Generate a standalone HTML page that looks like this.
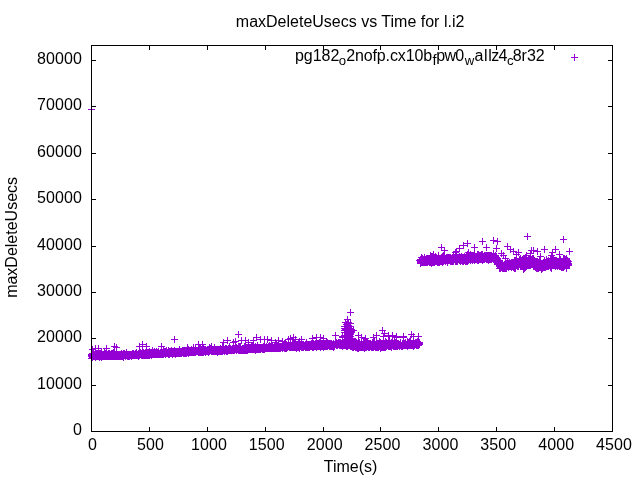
<!DOCTYPE html>
<html lang="en">
<head>
<meta charset="utf-8">
<title>maxDeleteUsecs vs Time for l.i2</title>
<style>
html,body{margin:0;padding:0;background:#fff;overflow:hidden}
svg{display:block}
text{font-family:"Liberation Sans",Arial,Helvetica,sans-serif;font-size:16px;fill:#000}
.sub{font-size:13.2px}
.num{letter-spacing:.1px}
</style>
</head>
<body>
<svg width="640" height="480" viewBox="0 0 640 480" role="img" aria-label="maxDeleteUsecs vs Time for l.i2">
<rect width="640" height="480" fill="#fff"/>
<g id="data" shape-rendering="crispEdges" fill="none" stroke="#9400d3" stroke-width="1">
<path d="M88 354.5h7M91.5 351v7M88 355.5h7M91.5 352v7M89 354.5h7M92.5 351v7M89 355.5h7M92.5 352v7M89 356.5h7M92.5 353v7M90 356.5h7M93.5 353v7M90 353.5h7M93.5 350v7M90 354.5h7M93.5 351v7M90 355.5h7M93.5 352v7M91 356.5h7M94.5 353v7M91 354.5h7M94.5 351v7M91 355.5h7M94.5 352v7M92 352.5h7M95.5 349v7M92 354.5h7M95.5 351v7M92 356.5h7M95.5 353v7M92 355.5h7M95.5 352v7M92 357.5h7M95.5 354v7M93 355.5h7M96.5 352v7M93 354.5h7M96.5 351v7M93 356.5h7M96.5 353v7M93 353.5h7M96.5 350v7M94 354.5h7M97.5 351v7M94 356.5h7M97.5 353v7M94 355.5h7M97.5 352v7M94 353.5h7M97.5 350v7M95 354.5h7M98.5 351v7M95 356.5h7M98.5 353v7M95 355.5h7M98.5 352v7M96 356.5h7M99.5 353v7M96 355.5h7M99.5 352v7M96 357.5h7M99.5 354v7M96 353.5h7M99.5 350v7M97 356.5h7M100.5 353v7M97 355.5h7M100.5 352v7M97 353.5h7M100.5 350v7M97 354.5h7M100.5 351v7M98 356.5h7M101.5 353v7M98 357.5h7M101.5 354v7M98 352.5h7M101.5 349v7M98 354.5h7M101.5 351v7M98 355.5h7M101.5 352v7M99 355.5h7M102.5 352v7M99 354.5h7M102.5 351v7M99 356.5h7M102.5 353v7M100 354.5h7M103.5 351v7M100 355.5h7M103.5 352v7M100 356.5h7M103.5 353v7M101 356.5h7M104.5 353v7M101 355.5h7M104.5 352v7M101 351.5h7M104.5 348v7M101 354.5h7M104.5 351v7M102 354.5h7M105.5 351v7M102 356.5h7M105.5 353v7M102 353.5h7M105.5 350v7M103 355.5h7M106.5 352v7M103 354.5h7M106.5 351v7M103 356.5h7M106.5 353v7M104 356.5h7M107.5 353v7M104 355.5h7M107.5 352v7M104 354.5h7M107.5 351v7M105 356.5h7M108.5 353v7M105 353.5h7M108.5 350v7M105 354.5h7M108.5 351v7M105 355.5h7M108.5 352v7M106 353.5h7M109.5 350v7M106 356.5h7M109.5 353v7M106 355.5h7M109.5 352v7M107 355.5h7M110.5 352v7M107 356.5h7M110.5 353v7M107 354.5h7M110.5 351v7M108 355.5h7M111.5 352v7M108 356.5h7M111.5 353v7M108 354.5h7M111.5 351v7M108 353.5h7M111.5 350v7M109 355.5h7M112.5 352v7M109 354.5h7M112.5 351v7M109 356.5h7M112.5 353v7M109 353.5h7M112.5 350v7M110 354.5h7M113.5 351v7M110 355.5h7M113.5 352v7M110 352.5h7M113.5 349v7M110 356.5h7M113.5 353v7M111 354.5h7M114.5 351v7M111 355.5h7M114.5 352v7M111 356.5h7M114.5 353v7M111 353.5h7M114.5 350v7M112 354.5h7M115.5 351v7M112 356.5h7M115.5 353v7M112 355.5h7M115.5 352v7M113 354.5h7M116.5 351v7M113 355.5h7M116.5 352v7M113 353.5h7M116.5 350v7M113 356.5h7M116.5 353v7M114 354.5h7M117.5 351v7M114 355.5h7M117.5 352v7M114 356.5h7M117.5 353v7M115 354.5h7M118.5 351v7M115 355.5h7M118.5 352v7M115 356.5h7M118.5 353v7M116 355.5h7M119.5 352v7M116 354.5h7M119.5 351v7M116 356.5h7M119.5 353v7M117 354.5h7M120.5 351v7M117 356.5h7M120.5 353v7M117 355.5h7M120.5 352v7M118 356.5h7M121.5 353v7M118 354.5h7M121.5 351v7M118 353.5h7M121.5 350v7M119 354.5h7M122.5 351v7M119 355.5h7M122.5 352v7M119 356.5h7M122.5 353v7M120 355.5h7M123.5 352v7M120 353.5h7M123.5 350v7M120 356.5h7M123.5 353v7M120 357.5h7M123.5 354v7M120 354.5h7M123.5 351v7M121 354.5h7M124.5 351v7M121 355.5h7M124.5 352v7M121 353.5h7M124.5 350v7M122 355.5h7M125.5 352v7M122 356.5h7M125.5 353v7M122 354.5h7M125.5 351v7M123 352.5h7M126.5 349v7M123 354.5h7M126.5 351v7M123 355.5h7M126.5 352v7M123 353.5h7M126.5 350v7M124 355.5h7M127.5 352v7M124 354.5h7M127.5 351v7M124 356.5h7M127.5 353v7M125 355.5h7M128.5 352v7M125 354.5h7M128.5 351v7M125 356.5h7M128.5 353v7M126 354.5h7M129.5 351v7M126 355.5h7M129.5 352v7M126 356.5h7M129.5 353v7M127 355.5h7M130.5 352v7M127 354.5h7M130.5 351v7M128 354.5h7M131.5 351v7M128 356.5h7M131.5 353v7M128 355.5h7M131.5 352v7M129 354.5h7M132.5 351v7M129 355.5h7M132.5 352v7M129 353.5h7M132.5 350v7M130 353.5h7M133.5 350v7M130 355.5h7M133.5 352v7M130 354.5h7M133.5 351v7M131 355.5h7M134.5 352v7M131 354.5h7M134.5 351v7M132 354.5h7M135.5 351v7M132 355.5h7M135.5 352v7M132 353.5h7M135.5 350v7M133 354.5h7M136.5 351v7M133 353.5h7M136.5 350v7M133 355.5h7M136.5 352v7M133 352.5h7M136.5 349v7M134 354.5h7M137.5 351v7M134 355.5h7M137.5 352v7M135 353.5h7M138.5 350v7M135 354.5h7M138.5 351v7M135 355.5h7M138.5 352v7M135 356.5h7M138.5 353v7M136 354.5h7M139.5 351v7M136 353.5h7M139.5 350v7M136 355.5h7M139.5 352v7M136 352.5h7M139.5 349v7M137 353.5h7M140.5 350v7M137 354.5h7M140.5 351v7M137 352.5h7M140.5 349v7M138 353.5h7M141.5 350v7M138 355.5h7M141.5 352v7M138 354.5h7M141.5 351v7M139 353.5h7M142.5 350v7M139 354.5h7M142.5 351v7M139 355.5h7M142.5 352v7M139 351.5h7M142.5 348v7M140 353.5h7M143.5 350v7M140 354.5h7M143.5 351v7M140 352.5h7M143.5 349v7M140 355.5h7M143.5 352v7M141 354.5h7M144.5 351v7M141 353.5h7M144.5 350v7M141 355.5h7M144.5 352v7M142 355.5h7M145.5 352v7M142 354.5h7M145.5 351v7M142 353.5h7M145.5 350v7M142 352.5h7M145.5 349v7M143 355.5h7M146.5 352v7M143 353.5h7M146.5 350v7M143 354.5h7M146.5 351v7M143 352.5h7M146.5 349v7M144 353.5h7M147.5 350v7M144 354.5h7M147.5 351v7M144 352.5h7M147.5 349v7M144 355.5h7M147.5 352v7M145 354.5h7M148.5 351v7M145 355.5h7M148.5 352v7M145 353.5h7M148.5 350v7M145 352.5h7M148.5 349v7M146 354.5h7M149.5 351v7M146 355.5h7M149.5 352v7M146 353.5h7M149.5 350v7M146 351.5h7M149.5 348v7M146 352.5h7M149.5 349v7M147 353.5h7M150.5 350v7M147 354.5h7M150.5 351v7M147 352.5h7M150.5 349v7M148 354.5h7M151.5 351v7M148 352.5h7M151.5 349v7M148 355.5h7M151.5 352v7M148 353.5h7M151.5 350v7M149 352.5h7M152.5 349v7M149 353.5h7M152.5 350v7M149 354.5h7M152.5 351v7M149 350.5h7M152.5 347v7M150 352.5h7M153.5 349v7M150 353.5h7M153.5 350v7M150 354.5h7M153.5 351v7M151 354.5h7M154.5 351v7M151 353.5h7M154.5 350v7M151 351.5h7M154.5 348v7M152 353.5h7M155.5 350v7M152 352.5h7M155.5 349v7M152 354.5h7M155.5 351v7M153 352.5h7M156.5 349v7M153 353.5h7M156.5 350v7M153 351.5h7M156.5 348v7M153 354.5h7M156.5 351v7M154 352.5h7M157.5 349v7M154 354.5h7M157.5 351v7M154 353.5h7M157.5 350v7M155 354.5h7M158.5 351v7M155 352.5h7M158.5 349v7M155 353.5h7M158.5 350v7M155 351.5h7M158.5 348v7M156 353.5h7M159.5 350v7M156 354.5h7M159.5 351v7M157 354.5h7M160.5 351v7M157 352.5h7M160.5 349v7M157 353.5h7M160.5 350v7M158 352.5h7M161.5 349v7M158 353.5h7M161.5 350v7M158 354.5h7M161.5 351v7M158 351.5h7M161.5 348v7M159 352.5h7M162.5 349v7M159 354.5h7M162.5 351v7M159 353.5h7M162.5 350v7M160 352.5h7M163.5 349v7M160 350.5h7M163.5 347v7M160 354.5h7M163.5 351v7M160 353.5h7M163.5 350v7M161 353.5h7M164.5 350v7M161 352.5h7M164.5 349v7M161 351.5h7M164.5 348v7M162 353.5h7M165.5 350v7M162 352.5h7M165.5 349v7M162 351.5h7M165.5 348v7M162 354.5h7M165.5 351v7M163 353.5h7M166.5 350v7M163 351.5h7M166.5 348v7M163 352.5h7M166.5 349v7M163 350.5h7M166.5 347v7M164 352.5h7M167.5 349v7M164 353.5h7M167.5 350v7M165 352.5h7M168.5 349v7M165 351.5h7M168.5 348v7M165 354.5h7M168.5 351v7M165 350.5h7M168.5 347v7M166 354.5h7M169.5 351v7M166 352.5h7M169.5 349v7M166 351.5h7M169.5 348v7M166 353.5h7M169.5 350v7M167 351.5h7M170.5 348v7M167 353.5h7M170.5 350v7M167 352.5h7M170.5 349v7M168 352.5h7M171.5 349v7M168 350.5h7M171.5 347v7M168 353.5h7M171.5 350v7M168 351.5h7M171.5 348v7M169 353.5h7M172.5 350v7M169 352.5h7M172.5 349v7M169 354.5h7M172.5 351v7M169 351.5h7M172.5 348v7M170 351.5h7M173.5 348v7M170 353.5h7M173.5 350v7M171 351.5h7M174.5 348v7M171 350.5h7M174.5 347v7M171 353.5h7M174.5 350v7M171 352.5h7M174.5 349v7M172 352.5h7M175.5 349v7M172 351.5h7M175.5 348v7M172 353.5h7M175.5 350v7M172 354.5h7M175.5 351v7M173 351.5h7M176.5 348v7M173 352.5h7M176.5 349v7M173 353.5h7M176.5 350v7M174 351.5h7M177.5 348v7M174 353.5h7M177.5 350v7M174 352.5h7M177.5 349v7M175 353.5h7M178.5 350v7M175 351.5h7M178.5 348v7"/>
<path d="M175 352.5h7M178.5 349v7M176 349.5h7M179.5 346v7M176 352.5h7M179.5 349v7M176 351.5h7M179.5 348v7M176 350.5h7M179.5 347v7M176 353.5h7M179.5 350v7M177 352.5h7M180.5 349v7M177 353.5h7M180.5 350v7M177 351.5h7M180.5 348v7M178 352.5h7M181.5 349v7M178 351.5h7M181.5 348v7M178 353.5h7M181.5 350v7M179 350.5h7M182.5 347v7M179 351.5h7M182.5 348v7M179 352.5h7M182.5 349v7M180 352.5h7M183.5 349v7M180 350.5h7M183.5 347v7M180 351.5h7M183.5 348v7M180 353.5h7M183.5 350v7M181 352.5h7M184.5 349v7M181 351.5h7M184.5 348v7M181 353.5h7M184.5 350v7M182 351.5h7M185.5 348v7M182 353.5h7M185.5 350v7M182 350.5h7M185.5 347v7M182 352.5h7M185.5 349v7M183 351.5h7M186.5 348v7M183 352.5h7M186.5 349v7M183 350.5h7M186.5 347v7M183 353.5h7M186.5 350v7M184 350.5h7M187.5 347v7M184 351.5h7M187.5 348v7M184 352.5h7M187.5 349v7M184 347.5h7M187.5 344v7M185 349.5h7M188.5 346v7M185 350.5h7M188.5 347v7M185 352.5h7M188.5 349v7M185 351.5h7M188.5 348v7M185 353.5h7M188.5 350v7M186 351.5h7M189.5 348v7M186 352.5h7M189.5 349v7M186 350.5h7M189.5 347v7M187 350.5h7M190.5 347v7M187 351.5h7M190.5 348v7M187 352.5h7M190.5 349v7M188 352.5h7M191.5 349v7M188 351.5h7M191.5 348v7M188 350.5h7M191.5 347v7M188 349.5h7M191.5 346v7M189 350.5h7M192.5 347v7M189 351.5h7M192.5 348v7M189 352.5h7M192.5 349v7M190 350.5h7M193.5 347v7M190 351.5h7M193.5 348v7M190 347.5h7M193.5 344v7M190 352.5h7M193.5 349v7M191 351.5h7M194.5 348v7M191 352.5h7M194.5 349v7M191 350.5h7M194.5 347v7M192 352.5h7M195.5 349v7M192 351.5h7M195.5 348v7M192 348.5h7M195.5 345v7M193 350.5h7M196.5 347v7M193 351.5h7M196.5 348v7M194 351.5h7M197.5 348v7M194 350.5h7M197.5 347v7M195 352.5h7M198.5 349v7M195 350.5h7M198.5 347v7M195 351.5h7M198.5 348v7M195 349.5h7M198.5 346v7M196 351.5h7M199.5 348v7M196 352.5h7M199.5 349v7M196 350.5h7M199.5 347v7M196 347.5h7M199.5 344v7M197 352.5h7M200.5 349v7M197 348.5h7M200.5 345v7M197 349.5h7M200.5 346v7M197 350.5h7M200.5 347v7M197 347.5h7M200.5 344v7M198 351.5h7M201.5 348v7M198 350.5h7M201.5 347v7M198 352.5h7M201.5 349v7M198 349.5h7M201.5 346v7M199 350.5h7M202.5 347v7M199 351.5h7M202.5 348v7M199 348.5h7M202.5 345v7M199 352.5h7M202.5 349v7M200 352.5h7M203.5 349v7M200 351.5h7M203.5 348v7M200 348.5h7M203.5 345v7M200 350.5h7M203.5 347v7M200 349.5h7M203.5 346v7M201 349.5h7M204.5 346v7M201 350.5h7M204.5 347v7M201 351.5h7M204.5 348v7M202 352.5h7M205.5 349v7M202 351.5h7M205.5 348v7M202 350.5h7M205.5 347v7M202 349.5h7M205.5 346v7M203 350.5h7M206.5 347v7M203 351.5h7M206.5 348v7M204 349.5h7M207.5 346v7M204 350.5h7M207.5 347v7M204 351.5h7M207.5 348v7M205 349.5h7M208.5 346v7M205 350.5h7M208.5 347v7M205 352.5h7M208.5 349v7M205 351.5h7M208.5 348v7M206 351.5h7M209.5 348v7M206 349.5h7M209.5 346v7M206 350.5h7M209.5 347v7M206 347.5h7M209.5 344v7M207 348.5h7M210.5 345v7M207 349.5h7M210.5 346v7M207 350.5h7M210.5 347v7M208 351.5h7M211.5 348v7M208 346.5h7M211.5 343v7M208 350.5h7M211.5 347v7M209 350.5h7M212.5 347v7M209 351.5h7M212.5 348v7M209 349.5h7M212.5 346v7M210 351.5h7M213.5 348v7M210 350.5h7M213.5 347v7M210 349.5h7M213.5 346v7M211 350.5h7M214.5 347v7M211 351.5h7M214.5 348v7M211 349.5h7M214.5 346v7M211 347.5h7M214.5 344v7M211 348.5h7M214.5 345v7M212 351.5h7M215.5 348v7M212 349.5h7M215.5 346v7M212 350.5h7M215.5 347v7M213 350.5h7M216.5 347v7M213 351.5h7M216.5 348v7M213 349.5h7M216.5 346v7M214 351.5h7M217.5 348v7M214 350.5h7M217.5 347v7M214 352.5h7M217.5 349v7M214 349.5h7M217.5 346v7M215 349.5h7M218.5 346v7M215 350.5h7M218.5 347v7M215 351.5h7M218.5 348v7M216 350.5h7M219.5 347v7M216 349.5h7M219.5 346v7M216 351.5h7M219.5 348v7M217 350.5h7M220.5 347v7M217 351.5h7M220.5 348v7M217 349.5h7M220.5 346v7M217 348.5h7M220.5 345v7M218 349.5h7M221.5 346v7M218 351.5h7M221.5 348v7M218 350.5h7M221.5 347v7M219 349.5h7M222.5 346v7M219 351.5h7M222.5 348v7M219 350.5h7M222.5 347v7M219 346.5h7M222.5 343v7M220 349.5h7M223.5 346v7M220 350.5h7M223.5 347v7M220 347.5h7M223.5 344v7M221 350.5h7M224.5 347v7M221 351.5h7M224.5 348v7M221 349.5h7M224.5 346v7M222 349.5h7M225.5 346v7M222 350.5h7M225.5 347v7M222 348.5h7M225.5 345v7M223 349.5h7M226.5 346v7M223 348.5h7M226.5 345v7M223 350.5h7M226.5 347v7M223 351.5h7M226.5 348v7M224 350.5h7M227.5 347v7M224 351.5h7M227.5 348v7M225 350.5h7M228.5 347v7M225 349.5h7M228.5 346v7M225 348.5h7M228.5 345v7M226 350.5h7M229.5 347v7M226 346.5h7M229.5 343v7M226 349.5h7M229.5 346v7M227 348.5h7M230.5 345v7M227 350.5h7M230.5 347v7M227 349.5h7M230.5 346v7M228 350.5h7M231.5 347v7M228 349.5h7M231.5 346v7M229 349.5h7M232.5 346v7M229 350.5h7M232.5 347v7M230 349.5h7M233.5 346v7M230 348.5h7M233.5 345v7M230 350.5h7M233.5 347v7M230 347.5h7M233.5 344v7M231 349.5h7M234.5 346v7M231 350.5h7M234.5 347v7M231 348.5h7M234.5 345v7M232 345.5h7M235.5 342v7M232 349.5h7M235.5 346v7M232 348.5h7M235.5 345v7M233 349.5h7M236.5 346v7M233 347.5h7M236.5 344v7M233 348.5h7M236.5 345v7M233 350.5h7M236.5 347v7M234 348.5h7M237.5 345v7M234 349.5h7M237.5 346v7M235 348.5h7M238.5 345v7M235 349.5h7M238.5 346v7M235 350.5h7M238.5 347v7M235 346.5h7M238.5 343v7M236 349.5h7M239.5 346v7M236 348.5h7M239.5 345v7M236 350.5h7M239.5 347v7M236 346.5h7M239.5 343v7M237 350.5h7M240.5 347v7M237 346.5h7M240.5 343v7M237 348.5h7M240.5 345v7M237 349.5h7M240.5 346v7M237 347.5h7M240.5 344v7M238 349.5h7M241.5 346v7M238 350.5h7M241.5 347v7M239 349.5h7M242.5 346v7M239 348.5h7M242.5 345v7M239 350.5h7M242.5 347v7M240 348.5h7M243.5 345v7M240 349.5h7M243.5 346v7M240 350.5h7M243.5 347v7M241 348.5h7M244.5 345v7M241 349.5h7M244.5 346v7M241 346.5h7M244.5 343v7M241 350.5h7M244.5 347v7M242 349.5h7M245.5 346v7M242 350.5h7M245.5 347v7M242 347.5h7M245.5 344v7M242 348.5h7M245.5 345v7M243 350.5h7M246.5 347v7M243 347.5h7M246.5 344v7M243 349.5h7M246.5 346v7M243 348.5h7M246.5 345v7M244 349.5h7M247.5 346v7M244 350.5h7M247.5 347v7M244 348.5h7M247.5 345v7M244 347.5h7M247.5 344v7M245 349.5h7M248.5 346v7M245 348.5h7M248.5 345v7M246 348.5h7M249.5 345v7M246 347.5h7M249.5 344v7M246 349.5h7M249.5 346v7M247 348.5h7M250.5 345v7M247 349.5h7M250.5 346v7M247 347.5h7M250.5 344v7M248 348.5h7M251.5 345v7M248 347.5h7M251.5 344v7M248 346.5h7M251.5 343v7M248 349.5h7M251.5 346v7M249 349.5h7M252.5 346v7M249 348.5h7M252.5 345v7M249 347.5h7M252.5 344v7M249 345.5h7M252.5 342v7M250 348.5h7M253.5 345v7M250 349.5h7M253.5 346v7M250 347.5h7M253.5 344v7M251 349.5h7M254.5 346v7M251 348.5h7M254.5 345v7M251 347.5h7M254.5 344v7M252 346.5h7M255.5 343v7M252 347.5h7M255.5 344v7M252 348.5h7M255.5 345v7M252 350.5h7M255.5 347v7M253 348.5h7M256.5 345v7M253 347.5h7M256.5 344v7M253 349.5h7M256.5 346v7M254 348.5h7M257.5 345v7M254 347.5h7M257.5 344v7M254 345.5h7M257.5 342v7M254 349.5h7M257.5 346v7M255 349.5h7M258.5 346v7M255 347.5h7M258.5 344v7M255 348.5h7M258.5 345v7M256 348.5h7M259.5 345v7M256 349.5h7M259.5 346v7M256 347.5h7M259.5 344v7M257 347.5h7M260.5 344v7M257 348.5h7M260.5 345v7M257 349.5h7M260.5 346v7M258 347.5h7M261.5 344v7M258 348.5h7M261.5 345v7M259 347.5h7M262.5 344v7M259 349.5h7M262.5 346v7M259 348.5h7M262.5 345v7M260 348.5h7M263.5 345v7M260 346.5h7M263.5 343v7M260 349.5h7M263.5 346v7M260 347.5h7M263.5 344v7M261 347.5h7M264.5 344v7M261 349.5h7M264.5 346v7M261 348.5h7M264.5 345v7M261 345.5h7M264.5 342v7M262 348.5h7M265.5 345v7M262 347.5h7M265.5 344v7M263 348.5h7M266.5 345v7M263 346.5h7M266.5 343v7M263 347.5h7M266.5 344v7M264 347.5h7M267.5 344v7M264 348.5h7M267.5 345v7M265 346.5h7M268.5 343v7"/>
<path d="M265 348.5h7M268.5 345v7M265 347.5h7M268.5 344v7M266 347.5h7M269.5 344v7M266 348.5h7M269.5 345v7M266 346.5h7M269.5 343v7M266 345.5h7M269.5 342v7M267 346.5h7M270.5 343v7M267 347.5h7M270.5 344v7M267 348.5h7M270.5 345v7M268 347.5h7M271.5 344v7M268 348.5h7M271.5 345v7M268 346.5h7M271.5 343v7M269 348.5h7M272.5 345v7M269 347.5h7M272.5 344v7M269 345.5h7M272.5 342v7M269 346.5h7M272.5 343v7M270 348.5h7M273.5 345v7M270 347.5h7M273.5 344v7M271 347.5h7M274.5 344v7M271 348.5h7M274.5 345v7M271 346.5h7M274.5 343v7M272 346.5h7M275.5 343v7M272 348.5h7M275.5 345v7M272 347.5h7M275.5 344v7M273 348.5h7M276.5 345v7M273 347.5h7M276.5 344v7M273 346.5h7M276.5 343v7M273 345.5h7M276.5 342v7M273 344.5h7M276.5 341v7M274 348.5h7M277.5 345v7M274 347.5h7M277.5 344v7M274 346.5h7M277.5 343v7M275 345.5h7M278.5 342v7M275 346.5h7M278.5 343v7M275 347.5h7M278.5 344v7M275 348.5h7M278.5 345v7M276 346.5h7M279.5 343v7M276 348.5h7M279.5 345v7M276 347.5h7M279.5 344v7M277 347.5h7M280.5 344v7M277 346.5h7M280.5 343v7M277 348.5h7M280.5 345v7M278 347.5h7M281.5 344v7M278 346.5h7M281.5 343v7M279 346.5h7M282.5 343v7M279 348.5h7M282.5 345v7M279 347.5h7M282.5 344v7M279 345.5h7M282.5 342v7M280 344.5h7M283.5 341v7M280 346.5h7M283.5 343v7M280 347.5h7M283.5 344v7M281 346.5h7M284.5 343v7M281 348.5h7M284.5 345v7M281 347.5h7M284.5 344v7M281 343.5h7M284.5 340v7M282 346.5h7M285.5 343v7M282 347.5h7M285.5 344v7M282 343.5h7M285.5 340v7M282 348.5h7M285.5 345v7M283 348.5h7M286.5 345v7M283 347.5h7M286.5 344v7M283 346.5h7M286.5 343v7M283 344.5h7M286.5 341v7M284 347.5h7M287.5 344v7M284 345.5h7M287.5 342v7M284 346.5h7M287.5 343v7M285 345.5h7M288.5 342v7M285 346.5h7M288.5 343v7M286 346.5h7M289.5 343v7M286 345.5h7M289.5 342v7M286 347.5h7M289.5 344v7M287 345.5h7M290.5 342v7M287 347.5h7M290.5 344v7M287 346.5h7M290.5 343v7M287 342.5h7M290.5 339v7M288 346.5h7M291.5 343v7M288 347.5h7M291.5 344v7M288 345.5h7M291.5 342v7M289 347.5h7M292.5 344v7M289 346.5h7M292.5 343v7M289 343.5h7M292.5 340v7M290 346.5h7M293.5 343v7M290 345.5h7M293.5 342v7M290 344.5h7M293.5 341v7M290 347.5h7M293.5 344v7M291 346.5h7M294.5 343v7M291 347.5h7M294.5 344v7M291 345.5h7M294.5 342v7M291 342.5h7M294.5 339v7M292 345.5h7M295.5 342v7M292 347.5h7M295.5 344v7M292 344.5h7M295.5 341v7M292 346.5h7M295.5 343v7M293 347.5h7M296.5 344v7M293 346.5h7M296.5 343v7M293 348.5h7M296.5 345v7M293 345.5h7M296.5 342v7M294 345.5h7M297.5 342v7M294 346.5h7M297.5 343v7M294 347.5h7M297.5 344v7M295 346.5h7M298.5 343v7M295 343.5h7M298.5 340v7M295 344.5h7M298.5 341v7M295 347.5h7M298.5 344v7M295 345.5h7M298.5 342v7M296 345.5h7M299.5 342v7M296 346.5h7M299.5 343v7M296 344.5h7M299.5 341v7M296 348.5h7M299.5 345v7M297 346.5h7M300.5 343v7M297 345.5h7M300.5 342v7M298 344.5h7M301.5 341v7M298 345.5h7M301.5 342v7M298 343.5h7M301.5 340v7M298 346.5h7M301.5 343v7M298 347.5h7M301.5 344v7M299 346.5h7M302.5 343v7M299 345.5h7M302.5 342v7M299 344.5h7M302.5 341v7M299 347.5h7M302.5 344v7M300 347.5h7M303.5 344v7M300 346.5h7M303.5 343v7M300 344.5h7M303.5 341v7M300 345.5h7M303.5 342v7M301 345.5h7M304.5 342v7M301 346.5h7M304.5 343v7M302 346.5h7M305.5 343v7M302 347.5h7M305.5 344v7M302 345.5h7M305.5 342v7M302 344.5h7M305.5 341v7M303 346.5h7M306.5 343v7M303 347.5h7M306.5 344v7M303 344.5h7M306.5 341v7M303 342.5h7M306.5 339v7M304 345.5h7M307.5 342v7M304 344.5h7M307.5 341v7M304 346.5h7M307.5 343v7M304 347.5h7M307.5 344v7M305 344.5h7M308.5 341v7M305 345.5h7M308.5 342v7M305 346.5h7M308.5 343v7M305 347.5h7M308.5 344v7M306 344.5h7M309.5 341v7M306 345.5h7M309.5 342v7M306 346.5h7M309.5 343v7M306 347.5h7M309.5 344v7M307 344.5h7M310.5 341v7M307 345.5h7M310.5 342v7M307 346.5h7M310.5 343v7M308 345.5h7M311.5 342v7M308 346.5h7M311.5 343v7M308 344.5h7M311.5 341v7M308 343.5h7M311.5 340v7M309 344.5h7M312.5 341v7M309 345.5h7M312.5 342v7M309 347.5h7M312.5 344v7M309 346.5h7M312.5 343v7M310 346.5h7M313.5 343v7M310 345.5h7M313.5 342v7M310 343.5h7M313.5 340v7M310 347.5h7M313.5 344v7M311 345.5h7M314.5 342v7M311 346.5h7M314.5 343v7M311 344.5h7M314.5 341v7M312 345.5h7M315.5 342v7M312 346.5h7M315.5 343v7M312 344.5h7M315.5 341v7M312 343.5h7M315.5 340v7M313 346.5h7M316.5 343v7M313 343.5h7M316.5 340v7M313 347.5h7M316.5 344v7M313 344.5h7M316.5 341v7M314 343.5h7M317.5 340v7M314 346.5h7M317.5 343v7M314 345.5h7M317.5 342v7M314 344.5h7M317.5 341v7M315 344.5h7M318.5 341v7M315 345.5h7M318.5 342v7M315 343.5h7M318.5 340v7M315 346.5h7M318.5 343v7M316 344.5h7M319.5 341v7M316 346.5h7M319.5 343v7M316 345.5h7M319.5 342v7M316 342.5h7M319.5 339v7M317 346.5h7M320.5 343v7M317 344.5h7M320.5 341v7M317 347.5h7M320.5 344v7M317 345.5h7M320.5 342v7M318 344.5h7M321.5 341v7M318 343.5h7M321.5 340v7M318 346.5h7M321.5 343v7M319 344.5h7M322.5 341v7M319 345.5h7M322.5 342v7M319 343.5h7M322.5 340v7M319 346.5h7M322.5 343v7M320 346.5h7M323.5 343v7M320 347.5h7M323.5 344v7M320 345.5h7M323.5 342v7M320 344.5h7M323.5 341v7M321 345.5h7M324.5 342v7M321 344.5h7M324.5 341v7M321 346.5h7M324.5 343v7M321 343.5h7M324.5 340v7M322 343.5h7M325.5 340v7M322 344.5h7M325.5 341v7M322 345.5h7M325.5 342v7M322 346.5h7M325.5 343v7M323 344.5h7M326.5 341v7M323 343.5h7M326.5 340v7M323 346.5h7M326.5 343v7M323 345.5h7M326.5 342v7M323 341.5h7M326.5 338v7M323 342.5h7M326.5 339v7M324 346.5h7M327.5 343v7M324 342.5h7M327.5 339v7M324 343.5h7M327.5 340v7M324 345.5h7M327.5 342v7M324 344.5h7M327.5 341v7M325 345.5h7M328.5 342v7M325 344.5h7M328.5 341v7M325 343.5h7M328.5 340v7M326 344.5h7M329.5 341v7M326 345.5h7M329.5 342v7M326 343.5h7M329.5 340v7M326 346.5h7M329.5 343v7M327 344.5h7M330.5 341v7M327 345.5h7M330.5 342v7M327 346.5h7M330.5 343v7M327 343.5h7M330.5 340v7M328 345.5h7M331.5 342v7M328 346.5h7M331.5 343v7M328 343.5h7M331.5 340v7M329 346.5h7M332.5 343v7M329 344.5h7M332.5 341v7M329 345.5h7M332.5 342v7M330 344.5h7M333.5 341v7M330 347.5h7M333.5 344v7M330 345.5h7M333.5 342v7M330 343.5h7M333.5 340v7M330 346.5h7M333.5 343v7M331 346.5h7M334.5 343v7M331 345.5h7M334.5 342v7M331 344.5h7M334.5 341v7M332 342.5h7M335.5 339v7M332 343.5h7M335.5 340v7M332 344.5h7M335.5 341v7M333 344.5h7M336.5 341v7M333 345.5h7M336.5 342v7M333 342.5h7M336.5 339v7M334 343.5h7M337.5 340v7M334 345.5h7M337.5 342v7M334 344.5h7M337.5 341v7M335 344.5h7M338.5 341v7M335 342.5h7M338.5 339v7M335 343.5h7M338.5 340v7M336 344.5h7M339.5 341v7M336 345.5h7M339.5 342v7M336 342.5h7M339.5 339v7M336 343.5h7M339.5 340v7M337 345.5h7M340.5 342v7M337 344.5h7M340.5 341v7M337 342.5h7M340.5 339v7M337 343.5h7M340.5 340v7M338 345.5h7M341.5 342v7M338 344.5h7M341.5 341v7M338 343.5h7M341.5 340v7M339 344.5h7M342.5 341v7M339 340.5h7M342.5 337v7M339 343.5h7M342.5 340v7M339 346.5h7M342.5 343v7M339 345.5h7M342.5 342v7M340 345.5h7M343.5 342v7M340 344.5h7M343.5 341v7M340 343.5h7M343.5 340v7M341 345.5h7M344.5 342v7M341 344.5h7M344.5 341v7M341 343.5h7M344.5 340v7M342 341.5h7M345.5 338v7M342 342.5h7M345.5 339v7M342 344.5h7M345.5 341v7M342 345.5h7M345.5 342v7M342 340.5h7M345.5 337v7M343 345.5h7M346.5 342v7M343 343.5h7M346.5 340v7M343 344.5h7M346.5 341v7M343 346.5h7M346.5 343v7M344 345.5h7M347.5 342v7M344 343.5h7M347.5 340v7M344 346.5h7M347.5 343v7M344 344.5h7M347.5 341v7M345 343.5h7M348.5 340v7M345 345.5h7M348.5 342v7M345 344.5h7M348.5 341v7M346 344.5h7M349.5 341v7M346 341.5h7M349.5 338v7M346 343.5h7M349.5 340v7M346 345.5h7M349.5 342v7M347 345.5h7M350.5 342v7M347 344.5h7M350.5 341v7M347 343.5h7M350.5 340v7"/>
<path d="M347 346.5h7M350.5 343v7M348 345.5h7M351.5 342v7M348 342.5h7M351.5 339v7M348 343.5h7M351.5 340v7M348 344.5h7M351.5 341v7M348 346.5h7M351.5 343v7M349 347.5h7M352.5 344v7M349 343.5h7M352.5 340v7M349 346.5h7M352.5 343v7M349 345.5h7M352.5 342v7M350 343.5h7M353.5 340v7M350 347.5h7M353.5 344v7M350 345.5h7M353.5 342v7M350 344.5h7M353.5 341v7M350 346.5h7M353.5 343v7M351 346.5h7M354.5 343v7M351 345.5h7M354.5 342v7M351 344.5h7M354.5 341v7M351 343.5h7M354.5 340v7M351 341.5h7M354.5 338v7M352 347.5h7M355.5 344v7M352 345.5h7M355.5 342v7M352 343.5h7M355.5 340v7M352 346.5h7M355.5 343v7M353 347.5h7M356.5 344v7M353 345.5h7M356.5 342v7M353 344.5h7M356.5 341v7M353 342.5h7M356.5 339v7M354 343.5h7M357.5 340v7M354 344.5h7M357.5 341v7M354 348.5h7M357.5 345v7M355 348.5h7M358.5 345v7M355 345.5h7M358.5 342v7M355 343.5h7M358.5 340v7M355 344.5h7M358.5 341v7M355 347.5h7M358.5 344v7M355 342.5h7M358.5 339v7M356 342.5h7M359.5 339v7M356 347.5h7M359.5 344v7M356 344.5h7M359.5 341v7M356 345.5h7M359.5 342v7M356 346.5h7M359.5 343v7M357 344.5h7M360.5 341v7M357 346.5h7M360.5 343v7M357 347.5h7M360.5 344v7M357 345.5h7M360.5 342v7M358 346.5h7M361.5 343v7M358 343.5h7M361.5 340v7M358 347.5h7M361.5 344v7M358 344.5h7M361.5 341v7M359 346.5h7M362.5 343v7M359 347.5h7M362.5 344v7M359 345.5h7M362.5 342v7M359 344.5h7M362.5 341v7M360 344.5h7M363.5 341v7M360 347.5h7M363.5 344v7M360 342.5h7M363.5 339v7M360 345.5h7M363.5 342v7M360 346.5h7M363.5 343v7M361 346.5h7M364.5 343v7M361 348.5h7M364.5 345v7M361 345.5h7M364.5 342v7M361 347.5h7M364.5 344v7M361 342.5h7M364.5 339v7M361 343.5h7M364.5 340v7M361 344.5h7M364.5 341v7M362 347.5h7M365.5 344v7M362 346.5h7M365.5 343v7M362 342.5h7M365.5 339v7M362 344.5h7M365.5 341v7M363 344.5h7M366.5 341v7M363 347.5h7M366.5 344v7M363 345.5h7M366.5 342v7M363 342.5h7M366.5 339v7M364 345.5h7M367.5 342v7M364 346.5h7M367.5 343v7M364 344.5h7M367.5 341v7M364 341.5h7M367.5 338v7M365 347.5h7M368.5 344v7M365 343.5h7M368.5 340v7M365 345.5h7M368.5 342v7M365 344.5h7M368.5 341v7M366 344.5h7M369.5 341v7M366 347.5h7M369.5 344v7M366 346.5h7M369.5 343v7M366 343.5h7M369.5 340v7M367 344.5h7M370.5 341v7M367 346.5h7M370.5 343v7M367 345.5h7M370.5 342v7M367 343.5h7M370.5 340v7M368 344.5h7M371.5 341v7M368 347.5h7M371.5 344v7M368 345.5h7M371.5 342v7M368 346.5h7M371.5 343v7M369 343.5h7M372.5 340v7M369 344.5h7M372.5 341v7M369 342.5h7M372.5 339v7M369 347.5h7M372.5 344v7M369 345.5h7M372.5 342v7M369 346.5h7M372.5 343v7M370 345.5h7M373.5 342v7M370 347.5h7M373.5 344v7M370 343.5h7M373.5 340v7M370 344.5h7M373.5 341v7M371 344.5h7M374.5 341v7M371 341.5h7M374.5 338v7M371 342.5h7M374.5 339v7M371 345.5h7M374.5 342v7M371 346.5h7M374.5 343v7M371 343.5h7M374.5 340v7M372 344.5h7M375.5 341v7M372 347.5h7M375.5 344v7M372 345.5h7M375.5 342v7M372 346.5h7M375.5 343v7M373 347.5h7M376.5 344v7M373 345.5h7M376.5 342v7M373 342.5h7M376.5 339v7M373 343.5h7M376.5 340v7M373 344.5h7M376.5 341v7M374 346.5h7M377.5 343v7M374 343.5h7M377.5 340v7M374 347.5h7M377.5 344v7M374 345.5h7M377.5 342v7M375 344.5h7M378.5 341v7M375 345.5h7M378.5 342v7M375 347.5h7M378.5 344v7M375 343.5h7M378.5 340v7M375 346.5h7M378.5 343v7M376 346.5h7M379.5 343v7M376 344.5h7M379.5 341v7M376 343.5h7M379.5 340v7M376 341.5h7M379.5 338v7M377 347.5h7M380.5 344v7M377 348.5h7M380.5 345v7M377 344.5h7M380.5 341v7M377 342.5h7M380.5 339v7M377 346.5h7M380.5 343v7M377 343.5h7M380.5 340v7M378 345.5h7M381.5 342v7M378 347.5h7M381.5 344v7M378 344.5h7M381.5 341v7M378 343.5h7M381.5 340v7M378 346.5h7M381.5 343v7M379 347.5h7M382.5 344v7M379 343.5h7M382.5 340v7M379 344.5h7M382.5 341v7M380 344.5h7M383.5 341v7M380 346.5h7M383.5 343v7M380 347.5h7M383.5 344v7M380 343.5h7M383.5 340v7M381 344.5h7M384.5 341v7M381 345.5h7M384.5 342v7M381 347.5h7M384.5 344v7M381 346.5h7M384.5 343v7M381 343.5h7M384.5 340v7M382 346.5h7M385.5 343v7M382 345.5h7M385.5 342v7M382 341.5h7M385.5 338v7M382 347.5h7M385.5 344v7M382 343.5h7M385.5 340v7M383 346.5h7M386.5 343v7M383 342.5h7M386.5 339v7M383 344.5h7M386.5 341v7M384 345.5h7M387.5 342v7M384 343.5h7M387.5 340v7M384 344.5h7M387.5 341v7M385 344.5h7M388.5 341v7M385 345.5h7M388.5 342v7M385 346.5h7M388.5 343v7M385 343.5h7M388.5 340v7M386 340.5h7M389.5 337v7M386 342.5h7M389.5 339v7M386 346.5h7M389.5 343v7M386 344.5h7M389.5 341v7M386 343.5h7M389.5 340v7M387 344.5h7M390.5 341v7M387 346.5h7M390.5 343v7M387 343.5h7M390.5 340v7M387 345.5h7M390.5 342v7M388 346.5h7M391.5 343v7M388 344.5h7M391.5 341v7M388 347.5h7M391.5 344v7M388 342.5h7M391.5 339v7M388 345.5h7M391.5 342v7M389 342.5h7M392.5 339v7M389 344.5h7M392.5 341v7M389 345.5h7M392.5 342v7M390 344.5h7M393.5 341v7M390 345.5h7M393.5 342v7M390 346.5h7M393.5 343v7M390 343.5h7M393.5 340v7M391 344.5h7M394.5 341v7M391 342.5h7M394.5 339v7M391 346.5h7M394.5 343v7M391 340.5h7M394.5 337v7M391 345.5h7M394.5 342v7M391 343.5h7M394.5 340v7M392 344.5h7M395.5 341v7M392 345.5h7M395.5 342v7M392 343.5h7M395.5 340v7M392 346.5h7M395.5 343v7M392 342.5h7M395.5 339v7M393 346.5h7M396.5 343v7M393 345.5h7M396.5 342v7M393 343.5h7M396.5 340v7M393 344.5h7M396.5 341v7M394 345.5h7M397.5 342v7M394 343.5h7M397.5 340v7M394 344.5h7M397.5 341v7M394 346.5h7M397.5 343v7M395 343.5h7M398.5 340v7M395 345.5h7M398.5 342v7M395 344.5h7M398.5 341v7M396 344.5h7M399.5 341v7M396 345.5h7M399.5 342v7M396 346.5h7M399.5 343v7M397 343.5h7M400.5 340v7M397 342.5h7M400.5 339v7M397 345.5h7M400.5 342v7M397 344.5h7M400.5 341v7M398 345.5h7M401.5 342v7M398 346.5h7M401.5 343v7M399 344.5h7M402.5 341v7M399 343.5h7M402.5 340v7M399 346.5h7M402.5 343v7M399 345.5h7M402.5 342v7M400 344.5h7M403.5 341v7M400 345.5h7M403.5 342v7M400 343.5h7M403.5 340v7M401 343.5h7M404.5 340v7M401 344.5h7M404.5 341v7M401 345.5h7M404.5 342v7M402 343.5h7M405.5 340v7M402 342.5h7M405.5 339v7M402 345.5h7M405.5 342v7M402 344.5h7M405.5 341v7M403 345.5h7M406.5 342v7M403 344.5h7M406.5 341v7M404 344.5h7M407.5 341v7M404 343.5h7M407.5 340v7M404 346.5h7M407.5 343v7M404 342.5h7M407.5 339v7M404 341.5h7M407.5 338v7M405 343.5h7M408.5 340v7M405 345.5h7M408.5 342v7M405 342.5h7M408.5 339v7M405 344.5h7M408.5 341v7M406 345.5h7M409.5 342v7M406 343.5h7M409.5 340v7M406 344.5h7M409.5 341v7M406 341.5h7M409.5 338v7M407 342.5h7M410.5 339v7M407 344.5h7M410.5 341v7M407 340.5h7M410.5 337v7M407 345.5h7M410.5 342v7M407 343.5h7M410.5 340v7M408 343.5h7M411.5 340v7M408 344.5h7M411.5 341v7M408 345.5h7M411.5 342v7M409 344.5h7M412.5 341v7M409 343.5h7M412.5 340v7M409 345.5h7M412.5 342v7M410 346.5h7M413.5 343v7M410 341.5h7M413.5 338v7M410 345.5h7M413.5 342v7M410 344.5h7M413.5 341v7M410 343.5h7M413.5 340v7M411 345.5h7M414.5 342v7M411 344.5h7M414.5 341v7M411 343.5h7M414.5 340v7M412 344.5h7M415.5 341v7M412 342.5h7M415.5 339v7M412 343.5h7M415.5 340v7M413 343.5h7M416.5 340v7M413 342.5h7M416.5 339v7M413 344.5h7M416.5 341v7M413 345.5h7M416.5 342v7M414 341.5h7M417.5 338v7M414 342.5h7M417.5 339v7M414 343.5h7M417.5 340v7M414 345.5h7M417.5 342v7M414 344.5h7M417.5 341v7M415 345.5h7M418.5 342v7M415 344.5h7M418.5 341v7M415 343.5h7M418.5 340v7M415 342.5h7M418.5 339v7M416 344.5h7M419.5 341v7M416 342.5h7M419.5 339v7M416 343.5h7M419.5 340v7M416 260.5h7M419.5 257v7M417 261.5h7M420.5 258v7M417 262.5h7M420.5 259v7M417 259.5h7M420.5 256v7M417 263.5h7M420.5 260v7M418 259.5h7M421.5 256v7M418 260.5h7M421.5 257v7M418 262.5h7M421.5 259v7M418 257.5h7M421.5 254v7M418 261.5h7M421.5 258v7M419 261.5h7M422.5 258v7"/>
<path d="M419 259.5h7M422.5 256v7M419 262.5h7M422.5 259v7M419 260.5h7M422.5 257v7M419 258.5h7M422.5 255v7M420 260.5h7M423.5 257v7M420 261.5h7M423.5 258v7M420 262.5h7M423.5 259v7M420 259.5h7M423.5 256v7M421 262.5h7M424.5 259v7M421 261.5h7M424.5 258v7M421 257.5h7M424.5 254v7M421 260.5h7M424.5 257v7M421 259.5h7M424.5 256v7M422 259.5h7M425.5 256v7M422 260.5h7M425.5 257v7M422 262.5h7M425.5 259v7M422 261.5h7M425.5 258v7M423 262.5h7M426.5 259v7M423 260.5h7M426.5 257v7M423 259.5h7M426.5 256v7M423 261.5h7M426.5 258v7M423 258.5h7M426.5 255v7M424 262.5h7M427.5 259v7M424 260.5h7M427.5 257v7M424 261.5h7M427.5 258v7M424 259.5h7M427.5 256v7M424 258.5h7M427.5 255v7M425 259.5h7M428.5 256v7M425 260.5h7M428.5 257v7M425 258.5h7M428.5 255v7M425 261.5h7M428.5 258v7M426 261.5h7M429.5 258v7M426 259.5h7M429.5 256v7M426 260.5h7M429.5 257v7M426 262.5h7M429.5 259v7M427 260.5h7M430.5 257v7M427 258.5h7M430.5 255v7M427 262.5h7M430.5 259v7M427 257.5h7M430.5 254v7M427 255.5h7M430.5 252v7M428 259.5h7M431.5 256v7M428 258.5h7M431.5 255v7M428 256.5h7M431.5 253v7M428 262.5h7M431.5 259v7M428 263.5h7M431.5 260v7M428 260.5h7M431.5 257v7M429 260.5h7M432.5 257v7M429 256.5h7M432.5 253v7M429 262.5h7M432.5 259v7M429 261.5h7M432.5 258v7M429 257.5h7M432.5 254v7M429 258.5h7M432.5 255v7M429 259.5h7M432.5 256v7M430 259.5h7M433.5 256v7M430 258.5h7M433.5 255v7M430 257.5h7M433.5 254v7M430 261.5h7M433.5 258v7M430 262.5h7M433.5 259v7M430 260.5h7M433.5 257v7M431 262.5h7M434.5 259v7M431 259.5h7M434.5 256v7M431 260.5h7M434.5 257v7M431 258.5h7M434.5 255v7M431 261.5h7M434.5 258v7M431 257.5h7M434.5 254v7M432 260.5h7M435.5 257v7M432 259.5h7M435.5 256v7M432 258.5h7M435.5 255v7M432 261.5h7M435.5 258v7M432 256.5h7M435.5 253v7M433 260.5h7M436.5 257v7M433 261.5h7M436.5 258v7M433 259.5h7M436.5 256v7M433 258.5h7M436.5 255v7M434 261.5h7M437.5 258v7M434 260.5h7M437.5 257v7M434 262.5h7M437.5 259v7M434 258.5h7M437.5 255v7M434 259.5h7M437.5 256v7M435 258.5h7M438.5 255v7M435 262.5h7M438.5 259v7M435 260.5h7M438.5 257v7M435 259.5h7M438.5 256v7M435 255.5h7M438.5 252v7M436 260.5h7M439.5 257v7M436 259.5h7M439.5 256v7M436 261.5h7M439.5 258v7M436 258.5h7M439.5 255v7M436 262.5h7M439.5 259v7M437 259.5h7M440.5 256v7M437 258.5h7M440.5 255v7M437 260.5h7M440.5 257v7M437 261.5h7M440.5 258v7M438 258.5h7M441.5 255v7M438 257.5h7M441.5 254v7M438 260.5h7M441.5 257v7M438 259.5h7M441.5 256v7M438 261.5h7M441.5 258v7M439 258.5h7M442.5 255v7M439 259.5h7M442.5 256v7M439 260.5h7M442.5 257v7M439 256.5h7M442.5 253v7M439 262.5h7M442.5 259v7M440 260.5h7M443.5 257v7M440 255.5h7M443.5 252v7M440 258.5h7M443.5 255v7M440 261.5h7M443.5 258v7M440 257.5h7M443.5 254v7M441 258.5h7M444.5 255v7M441 256.5h7M444.5 253v7M441 260.5h7M444.5 257v7M441 257.5h7M444.5 254v7M442 259.5h7M445.5 256v7M442 260.5h7M445.5 257v7M442 261.5h7M445.5 258v7M442 258.5h7M445.5 255v7M443 257.5h7M446.5 254v7M443 258.5h7M446.5 255v7M443 260.5h7M446.5 257v7M443 259.5h7M446.5 256v7M444 260.5h7M447.5 257v7M444 259.5h7M447.5 256v7M444 261.5h7M447.5 258v7M444 258.5h7M447.5 255v7M444 262.5h7M447.5 259v7M444 257.5h7M447.5 254v7M445 257.5h7M448.5 254v7M445 258.5h7M448.5 255v7M445 260.5h7M448.5 257v7M445 259.5h7M448.5 256v7M446 258.5h7M449.5 255v7M446 259.5h7M449.5 256v7M446 257.5h7M449.5 254v7M446 260.5h7M449.5 257v7M447 258.5h7M450.5 255v7M447 259.5h7M450.5 256v7M447 261.5h7M450.5 258v7M447 257.5h7M450.5 254v7M447 260.5h7M450.5 257v7M448 261.5h7M451.5 258v7M448 260.5h7M451.5 257v7M448 259.5h7M451.5 256v7M448 258.5h7M451.5 255v7M449 260.5h7M452.5 257v7M449 258.5h7M452.5 255v7M449 257.5h7M452.5 254v7M449 261.5h7M452.5 258v7M450 260.5h7M453.5 257v7M450 259.5h7M453.5 256v7M450 255.5h7M453.5 252v7M450 261.5h7M453.5 258v7M451 257.5h7M454.5 254v7M451 258.5h7M454.5 255v7M451 259.5h7M454.5 256v7M452 256.5h7M455.5 253v7M452 259.5h7M455.5 256v7M452 261.5h7M455.5 258v7M452 258.5h7M455.5 255v7M452 260.5h7M455.5 257v7M453 260.5h7M456.5 257v7M453 259.5h7M456.5 256v7M453 261.5h7M456.5 258v7M453 257.5h7M456.5 254v7M454 257.5h7M457.5 254v7M454 259.5h7M457.5 256v7M454 261.5h7M457.5 258v7M454 258.5h7M457.5 255v7M454 260.5h7M457.5 257v7M455 257.5h7M458.5 254v7M455 258.5h7M458.5 255v7M455 259.5h7M458.5 256v7M456 260.5h7M459.5 257v7M456 259.5h7M459.5 256v7M456 256.5h7M459.5 253v7M456 257.5h7M459.5 254v7M457 258.5h7M460.5 255v7M457 259.5h7M460.5 256v7M457 260.5h7M460.5 257v7M457 261.5h7M460.5 258v7M457 257.5h7M460.5 254v7M458 260.5h7M461.5 257v7M458 256.5h7M461.5 253v7M458 257.5h7M461.5 254v7M458 258.5h7M461.5 255v7M458 259.5h7M461.5 256v7M459 257.5h7M462.5 254v7M459 258.5h7M462.5 255v7M459 260.5h7M462.5 257v7M459 259.5h7M462.5 256v7M459 261.5h7M462.5 258v7M460 257.5h7M463.5 254v7M460 260.5h7M463.5 257v7M460 261.5h7M463.5 258v7M460 259.5h7M463.5 256v7M461 259.5h7M464.5 256v7M461 257.5h7M464.5 254v7M461 256.5h7M464.5 253v7M461 260.5h7M464.5 257v7M461 258.5h7M464.5 255v7M462 260.5h7M465.5 257v7M462 258.5h7M465.5 255v7M462 261.5h7M465.5 258v7M462 259.5h7M465.5 256v7M463 259.5h7M466.5 256v7M463 260.5h7M466.5 257v7M463 258.5h7M466.5 255v7M463 256.5h7M466.5 253v7M463 261.5h7M466.5 258v7M463 257.5h7M466.5 254v7M464 258.5h7M467.5 255v7M464 257.5h7M467.5 254v7M464 254.5h7M467.5 251v7M464 261.5h7M467.5 258v7M465 259.5h7M468.5 256v7M465 256.5h7M468.5 253v7M465 257.5h7M468.5 254v7M465 260.5h7M468.5 257v7M465 258.5h7M468.5 255v7M466 256.5h7M469.5 253v7M466 259.5h7M469.5 256v7M466 258.5h7M469.5 255v7M466 257.5h7M469.5 254v7M467 258.5h7M470.5 255v7M467 257.5h7M470.5 254v7M467 254.5h7M470.5 251v7M467 255.5h7M470.5 252v7M467 260.5h7M470.5 257v7M467 256.5h7M470.5 253v7M468 256.5h7M471.5 253v7M468 259.5h7M471.5 256v7M468 258.5h7M471.5 255v7M468 255.5h7M471.5 252v7M468 257.5h7M471.5 254v7M469 259.5h7M472.5 256v7M469 260.5h7M472.5 257v7M469 257.5h7M472.5 254v7M469 255.5h7M472.5 252v7M470 256.5h7M473.5 253v7M470 257.5h7M473.5 254v7M470 255.5h7M473.5 252v7M470 258.5h7M473.5 255v7M470 259.5h7M473.5 256v7M471 254.5h7M474.5 251v7M471 258.5h7M474.5 255v7M471 259.5h7M474.5 256v7M471 260.5h7M474.5 257v7M471 257.5h7M474.5 254v7M471 256.5h7M474.5 253v7M472 256.5h7M475.5 253v7M472 259.5h7M475.5 256v7M472 257.5h7M475.5 254v7M473 258.5h7M476.5 255v7M473 259.5h7M476.5 256v7M473 256.5h7M476.5 253v7M473 257.5h7M476.5 254v7M474 258.5h7M477.5 255v7M474 256.5h7M477.5 253v7M474 254.5h7M477.5 251v7M474 260.5h7M477.5 257v7M474 259.5h7M477.5 256v7M475 257.5h7M478.5 254v7M475 259.5h7M478.5 256v7M475 260.5h7M478.5 257v7M475 254.5h7M478.5 251v7M475 256.5h7M478.5 253v7M475 255.5h7M478.5 252v7M475 258.5h7M478.5 255v7M476 256.5h7M479.5 253v7M476 255.5h7M479.5 252v7M476 259.5h7M479.5 256v7M476 257.5h7M479.5 254v7M476 258.5h7M479.5 255v7M477 256.5h7M480.5 253v7M477 259.5h7M480.5 256v7M477 258.5h7M480.5 255v7M477 255.5h7M480.5 252v7M477 257.5h7M480.5 254v7M478 258.5h7M481.5 255v7M478 257.5h7M481.5 254v7M478 259.5h7M481.5 256v7M478 254.5h7M481.5 251v7M479 259.5h7M482.5 256v7M479 257.5h7M482.5 254v7M479 258.5h7M482.5 255v7M479 260.5h7M482.5 257v7M479 256.5h7M482.5 253v7M479 254.5h7M482.5 251v7M480 259.5h7M483.5 256v7M480 257.5h7M483.5 254v7M480 256.5h7M483.5 253v7M480 258.5h7M483.5 255v7M481 257.5h7M484.5 254v7M481 255.5h7M484.5 252v7M481 256.5h7M484.5 253v7M481 258.5h7M484.5 255v7M481 259.5h7M484.5 256v7M482 256.5h7M485.5 253v7M482 257.5h7M485.5 254v7M482 255.5h7M485.5 252v7M482 258.5h7M485.5 255v7"/>
<path d="M483 259.5h7M486.5 256v7M483 255.5h7M486.5 252v7M483 257.5h7M486.5 254v7M483 258.5h7M486.5 255v7M483 256.5h7M486.5 253v7M484 256.5h7M487.5 253v7M484 259.5h7M487.5 256v7M484 255.5h7M487.5 252v7M484 258.5h7M487.5 255v7M485 255.5h7M488.5 252v7M485 257.5h7M488.5 254v7M485 260.5h7M488.5 257v7M485 256.5h7M488.5 253v7M485 259.5h7M488.5 256v7M486 255.5h7M489.5 252v7M486 256.5h7M489.5 253v7M486 257.5h7M489.5 254v7M486 259.5h7M489.5 256v7M486 258.5h7M489.5 255v7M487 255.5h7M490.5 252v7M487 259.5h7M490.5 256v7M487 256.5h7M490.5 253v7M487 258.5h7M490.5 255v7M488 258.5h7M491.5 255v7M488 255.5h7M491.5 252v7M488 256.5h7M491.5 253v7M488 257.5h7M491.5 254v7M488 259.5h7M491.5 256v7M489 257.5h7M492.5 254v7M489 256.5h7M492.5 253v7M489 258.5h7M492.5 255v7M490 253.5h7M493.5 250v7M490 257.5h7M493.5 254v7M490 259.5h7M493.5 256v7M490 256.5h7M493.5 253v7M490 254.5h7M493.5 251v7M491 257.5h7M494.5 254v7M491 256.5h7M494.5 253v7M491 258.5h7M494.5 255v7M492 256.5h7M495.5 253v7M492 259.5h7M495.5 256v7M492 258.5h7M495.5 255v7M492 255.5h7M495.5 252v7M492 257.5h7M495.5 254v7M493 260.5h7M496.5 257v7M493 257.5h7M496.5 254v7M493 262.5h7M496.5 259v7M493 261.5h7M496.5 258v7M493 259.5h7M496.5 256v7M494 260.5h7M497.5 257v7M494 258.5h7M497.5 255v7M494 263.5h7M497.5 260v7M494 259.5h7M497.5 256v7M494 264.5h7M497.5 261v7M494 262.5h7M497.5 259v7M495 263.5h7M498.5 260v7M495 262.5h7M498.5 259v7M495 264.5h7M498.5 261v7M496 266.5h7M499.5 263v7M496 264.5h7M499.5 261v7M496 268.5h7M499.5 265v7M496 263.5h7M499.5 260v7M496 265.5h7M499.5 262v7M497 263.5h7M500.5 260v7M497 268.5h7M500.5 265v7M497 266.5h7M500.5 263v7M497 265.5h7M500.5 262v7M497 267.5h7M500.5 264v7M498 265.5h7M501.5 262v7M498 266.5h7M501.5 263v7M498 267.5h7M501.5 264v7M498 263.5h7M501.5 260v7M499 263.5h7M502.5 260v7M499 267.5h7M502.5 264v7M499 268.5h7M502.5 265v7M499 264.5h7M502.5 261v7M499 265.5h7M502.5 262v7M500 265.5h7M503.5 262v7M500 266.5h7M503.5 263v7M500 267.5h7M503.5 264v7M500 268.5h7M503.5 265v7M501 268.5h7M504.5 265v7M501 266.5h7M504.5 263v7M501 264.5h7M504.5 261v7M501 267.5h7M504.5 264v7M502 264.5h7M505.5 261v7M502 268.5h7M505.5 265v7M502 266.5h7M505.5 263v7M502 262.5h7M505.5 259v7M502 263.5h7M505.5 260v7M503 265.5h7M506.5 262v7M503 264.5h7M506.5 261v7M503 263.5h7M506.5 260v7M503 268.5h7M506.5 265v7M503 267.5h7M506.5 264v7M504 265.5h7M507.5 262v7M504 266.5h7M507.5 263v7M504 264.5h7M507.5 261v7M504 262.5h7M507.5 259v7M505 264.5h7M508.5 261v7M505 266.5h7M508.5 263v7M505 263.5h7M508.5 260v7M505 267.5h7M508.5 264v7M506 266.5h7M509.5 263v7M506 264.5h7M509.5 261v7M506 262.5h7M509.5 259v7M506 265.5h7M509.5 262v7M507 265.5h7M510.5 262v7M507 264.5h7M510.5 261v7M507 263.5h7M510.5 260v7M507 266.5h7M510.5 263v7M508 264.5h7M511.5 261v7M508 263.5h7M511.5 260v7M508 262.5h7M511.5 259v7M508 265.5h7M511.5 262v7M508 267.5h7M511.5 264v7M508 266.5h7M511.5 263v7M509 262.5h7M512.5 259v7M509 264.5h7M512.5 261v7M509 266.5h7M512.5 263v7M509 265.5h7M512.5 262v7M510 266.5h7M513.5 263v7M510 265.5h7M513.5 262v7M510 267.5h7M513.5 264v7M510 262.5h7M513.5 259v7M510 264.5h7M513.5 261v7M511 267.5h7M514.5 264v7M511 268.5h7M514.5 265v7M511 265.5h7M514.5 262v7M511 263.5h7M514.5 260v7M511 260.5h7M514.5 257v7M511 264.5h7M514.5 261v7M512 267.5h7M515.5 264v7M512 260.5h7M515.5 257v7M512 264.5h7M515.5 261v7M512 266.5h7M515.5 263v7M512 265.5h7M515.5 262v7M512 268.5h7M515.5 265v7M513 264.5h7M516.5 261v7M513 263.5h7M516.5 260v7M513 265.5h7M516.5 262v7M513 259.5h7M516.5 256v7M513 261.5h7M516.5 258v7M514 264.5h7M517.5 261v7M514 265.5h7M517.5 262v7M514 262.5h7M517.5 259v7M514 263.5h7M517.5 260v7M514 266.5h7M517.5 263v7M514 261.5h7M517.5 258v7M515 264.5h7M518.5 261v7M515 265.5h7M518.5 262v7M515 266.5h7M518.5 263v7M515 263.5h7M518.5 260v7M515 262.5h7M518.5 259v7M516 259.5h7M519.5 256v7M516 263.5h7M519.5 260v7M516 261.5h7M519.5 258v7M516 260.5h7M519.5 257v7M516 264.5h7M519.5 261v7M516 262.5h7M519.5 259v7M517 264.5h7M520.5 261v7M517 260.5h7M520.5 257v7M517 258.5h7M520.5 255v7M517 262.5h7M520.5 259v7M517 263.5h7M520.5 260v7M518 261.5h7M521.5 258v7M518 264.5h7M521.5 261v7M518 263.5h7M521.5 260v7M518 260.5h7M521.5 257v7M519 261.5h7M522.5 258v7M519 263.5h7M522.5 260v7M519 260.5h7M522.5 257v7M519 262.5h7M522.5 259v7M519 259.5h7M522.5 256v7M520 258.5h7M523.5 255v7M520 264.5h7M523.5 261v7M520 268.5h7M523.5 265v7M520 267.5h7M523.5 264v7M520 259.5h7M523.5 256v7M520 269.5h7M523.5 266v7M521 262.5h7M524.5 259v7M521 260.5h7M524.5 257v7M521 268.5h7M524.5 265v7M521 263.5h7M524.5 260v7M521 261.5h7M524.5 258v7M521 258.5h7M524.5 255v7M522 262.5h7M525.5 259v7M522 267.5h7M525.5 264v7M522 261.5h7M525.5 258v7M522 260.5h7M525.5 257v7M522 266.5h7M525.5 263v7M522 264.5h7M525.5 261v7M522 265.5h7M525.5 262v7M522 257.5h7M525.5 254v7M523 258.5h7M526.5 255v7M523 262.5h7M526.5 259v7M523 264.5h7M526.5 261v7M523 261.5h7M526.5 258v7M523 263.5h7M526.5 260v7M523 260.5h7M526.5 257v7M524 264.5h7M527.5 261v7M524 261.5h7M527.5 258v7M524 265.5h7M527.5 262v7M524 263.5h7M527.5 260v7M524 260.5h7M527.5 257v7M525 261.5h7M528.5 258v7M525 265.5h7M528.5 262v7M525 262.5h7M528.5 259v7M525 258.5h7M528.5 255v7M526 263.5h7M529.5 260v7M526 261.5h7M529.5 258v7M526 264.5h7M529.5 261v7M526 265.5h7M529.5 262v7M526 259.5h7M529.5 256v7M526 262.5h7M529.5 259v7M527 262.5h7M530.5 259v7M527 263.5h7M530.5 260v7M527 259.5h7M530.5 256v7M527 261.5h7M530.5 258v7M527 265.5h7M530.5 262v7M527 260.5h7M530.5 257v7M527 264.5h7M530.5 261v7M528 261.5h7M531.5 258v7M528 262.5h7M531.5 259v7M528 259.5h7M531.5 256v7M528 264.5h7M531.5 261v7M528 263.5h7M531.5 260v7M529 264.5h7M532.5 261v7M529 263.5h7M532.5 260v7M529 262.5h7M532.5 259v7M529 260.5h7M532.5 257v7M529 258.5h7M532.5 255v7M530 258.5h7M533.5 255v7M530 262.5h7M533.5 259v7M530 260.5h7M533.5 257v7M530 266.5h7M533.5 263v7M531 266.5h7M534.5 263v7M531 262.5h7M534.5 259v7M531 265.5h7M534.5 262v7M531 260.5h7M534.5 257v7M531 263.5h7M534.5 260v7M532 267.5h7M535.5 264v7M532 266.5h7M535.5 263v7M532 262.5h7M535.5 259v7M532 265.5h7M535.5 262v7M533 263.5h7M536.5 260v7M533 266.5h7M536.5 263v7M533 264.5h7M536.5 261v7M533 262.5h7M536.5 259v7M533 267.5h7M536.5 264v7M533 268.5h7M536.5 265v7M534 266.5h7M537.5 263v7M534 261.5h7M537.5 258v7M534 264.5h7M537.5 261v7M534 263.5h7M537.5 260v7M534 267.5h7M537.5 264v7M534 268.5h7M537.5 265v7M535 265.5h7M538.5 262v7M535 268.5h7M538.5 265v7M535 266.5h7M538.5 263v7M535 264.5h7M538.5 261v7M535 267.5h7M538.5 264v7M535 262.5h7M538.5 259v7M536 266.5h7M539.5 263v7M536 265.5h7M539.5 262v7M536 260.5h7M539.5 257v7M536 262.5h7M539.5 259v7M536 267.5h7M539.5 264v7M537 267.5h7M540.5 264v7M537 263.5h7M540.5 260v7M537 266.5h7M540.5 263v7M537 262.5h7M540.5 259v7M537 265.5h7M540.5 262v7M538 264.5h7M541.5 261v7M538 263.5h7M541.5 260v7M538 269.5h7M541.5 266v7M538 265.5h7M541.5 262v7M538 268.5h7M541.5 265v7M539 268.5h7M542.5 265v7M539 263.5h7M542.5 260v7M539 265.5h7M542.5 262v7M539 266.5h7M542.5 263v7M539 264.5h7M542.5 261v7M540 266.5h7M543.5 263v7M540 263.5h7M543.5 260v7M540 264.5h7M543.5 261v7M540 265.5h7M543.5 262v7M540 267.5h7M543.5 264v7M540 262.5h7M543.5 259v7M541 267.5h7M544.5 264v7M541 261.5h7M544.5 258v7M541 264.5h7M544.5 261v7M541 260.5h7M544.5 257v7M541 266.5h7M544.5 263v7M542 262.5h7M545.5 259v7M542 267.5h7M545.5 264v7M542 265.5h7M545.5 262v7M542 264.5h7M545.5 261v7M542 266.5h7M545.5 263v7M542 263.5h7M545.5 260v7"/>
<path d="M543 259.5h7M546.5 256v7M543 266.5h7M546.5 263v7M543 261.5h7M546.5 258v7M543 265.5h7M546.5 262v7M543 264.5h7M546.5 261v7M543 262.5h7M546.5 259v7M544 263.5h7M547.5 260v7M544 266.5h7M547.5 263v7M544 262.5h7M547.5 259v7M544 265.5h7M547.5 262v7M544 261.5h7M547.5 258v7M545 266.5h7M548.5 263v7M545 262.5h7M548.5 259v7M545 261.5h7M548.5 258v7M545 264.5h7M548.5 261v7M545 260.5h7M548.5 257v7M546 264.5h7M549.5 261v7M546 261.5h7M549.5 258v7M546 262.5h7M549.5 259v7M547 264.5h7M550.5 261v7M547 265.5h7M550.5 262v7M547 258.5h7M550.5 255v7M547 267.5h7M550.5 264v7M547 260.5h7M550.5 257v7M547 263.5h7M550.5 260v7M548 268.5h7M551.5 265v7M548 261.5h7M551.5 258v7M548 265.5h7M551.5 262v7M548 267.5h7M551.5 264v7M548 262.5h7M551.5 259v7M548 260.5h7M551.5 257v7M549 259.5h7M552.5 256v7M549 264.5h7M552.5 261v7M549 260.5h7M552.5 257v7M549 261.5h7M552.5 258v7M549 265.5h7M552.5 262v7M550 260.5h7M553.5 257v7M550 263.5h7M553.5 260v7M550 261.5h7M553.5 258v7M550 259.5h7M553.5 256v7M550 264.5h7M553.5 261v7M550 262.5h7M553.5 259v7M550 265.5h7M553.5 262v7M551 264.5h7M554.5 261v7M551 262.5h7M554.5 259v7M551 260.5h7M554.5 257v7M551 263.5h7M554.5 260v7M551 261.5h7M554.5 258v7M552 265.5h7M555.5 262v7M552 261.5h7M555.5 258v7M552 263.5h7M555.5 260v7M552 266.5h7M555.5 263v7M552 260.5h7M555.5 257v7M552 262.5h7M555.5 259v7M553 263.5h7M556.5 260v7M553 265.5h7M556.5 262v7M553 264.5h7M556.5 261v7M553 260.5h7M556.5 257v7M554 265.5h7M557.5 262v7M554 262.5h7M557.5 259v7M554 266.5h7M557.5 263v7M554 261.5h7M557.5 258v7M554 263.5h7M557.5 260v7M554 264.5h7M557.5 261v7M555 261.5h7M558.5 258v7M555 265.5h7M558.5 262v7M555 264.5h7M558.5 261v7M555 263.5h7M558.5 260v7M555 262.5h7M558.5 259v7M556 265.5h7M559.5 262v7M556 266.5h7M559.5 263v7M556 261.5h7M559.5 258v7M556 263.5h7M559.5 260v7M556 260.5h7M559.5 257v7M556 264.5h7M559.5 261v7M557 262.5h7M560.5 259v7M557 260.5h7M560.5 257v7M557 266.5h7M560.5 263v7M557 261.5h7M560.5 258v7M557 263.5h7M560.5 260v7M557 259.5h7M560.5 256v7M557 264.5h7M560.5 261v7M558 262.5h7M561.5 259v7M558 264.5h7M561.5 261v7M558 267.5h7M561.5 264v7M558 266.5h7M561.5 263v7M559 263.5h7M562.5 260v7M559 266.5h7M562.5 263v7M559 262.5h7M562.5 259v7M559 264.5h7M562.5 261v7M559 267.5h7M562.5 264v7M559 261.5h7M562.5 258v7M560 263.5h7M563.5 260v7M560 258.5h7M563.5 255v7M560 266.5h7M563.5 263v7M560 267.5h7M563.5 264v7M560 262.5h7M563.5 259v7M560 264.5h7M563.5 261v7M560 261.5h7M563.5 258v7M561 263.5h7M564.5 260v7M561 264.5h7M564.5 261v7M561 258.5h7M564.5 255v7M561 260.5h7M564.5 257v7M561 265.5h7M564.5 262v7M561 266.5h7M564.5 263v7M562 262.5h7M565.5 259v7M562 265.5h7M565.5 262v7M562 259.5h7M565.5 256v7M562 263.5h7M565.5 260v7M563 264.5h7M566.5 261v7M563 266.5h7M566.5 263v7M563 259.5h7M566.5 256v7M563 258.5h7M566.5 255v7M563 268.5h7M566.5 265v7M563 267.5h7M566.5 264v7M563 265.5h7M566.5 262v7M563 263.5h7M566.5 260v7M564 261.5h7M567.5 258v7M564 265.5h7M567.5 262v7M564 263.5h7M567.5 260v7M564 260.5h7M567.5 257v7M564 262.5h7M567.5 259v7M564 264.5h7M567.5 261v7M565 265.5h7M568.5 262v7M565 264.5h7M568.5 261v7M565 263.5h7M568.5 260v7M565 261.5h7M568.5 258v7M339 336.5h7M342.5 333v7M339 337.5h7M342.5 334v7M341 330.5h7M344.5 327v7M341 332.5h7M344.5 329v7M341 335.5h7M344.5 332v7M342 329.5h7M345.5 326v7M342 330.5h7M345.5 327v7M342 332.5h7M345.5 329v7M343 330.5h7M346.5 327v7M343 335.5h7M346.5 332v7M343 337.5h7M346.5 334v7M343 339.5h7M346.5 336v7M343 340.5h7M346.5 337v7M344 330.5h7M347.5 327v7M344 331.5h7M347.5 328v7M344 334.5h7M347.5 331v7M345 330.5h7M348.5 327v7M345 331.5h7M348.5 328v7M345 332.5h7M348.5 329v7M345 334.5h7M348.5 331v7M345 337.5h7M348.5 334v7M345 338.5h7M348.5 335v7M345 340.5h7M348.5 337v7M346 329.5h7M349.5 326v7M346 331.5h7M349.5 328v7M346 333.5h7M349.5 330v7M347 334.5h7M350.5 331v7M347 336.5h7M350.5 333v7M347 338.5h7M350.5 335v7M347 339.5h7M350.5 336v7M347 340.5h7M350.5 337v7M348 329.5h7M351.5 326v7M348 331.5h7M351.5 328v7M348 332.5h7M351.5 329v7M348 340.5h7M351.5 337v7M349 338.5h7M352.5 335v7M349 339.5h7M352.5 336v7M350 330.5h7M353.5 327v7M92 348.5h7M95.5 345v7M95 348.5h7M98.5 345v7M103 348.5h7M106.5 345v7M111 346.5h7M114.5 343v7M113 347.5h7M116.5 344v7M136 346.5h7M139.5 343v7M139 344.5h7M142.5 341v7M143 346.5h7M146.5 343v7M158 346.5h7M161.5 343v7M171 339.5h7M174.5 336v7M195 344.5h7M198.5 341v7M199 344.5h7M202.5 341v7M220 342.5h7M223.5 339v7M224 340.5h7M227.5 337v7M230 342.5h7M233.5 339v7M232 341.5h7M235.5 338v7M235 334.5h7M238.5 331v7M238 340.5h7M241.5 337v7M253 337.5h7M256.5 334v7M250 340.5h7M253.5 337v7M242 340.5h7M245.5 337v7M245 342.5h7M248.5 339v7M257 339.5h7M260.5 336v7M261 339.5h7M264.5 336v7M264 339.5h7M267.5 336v7M268 340.5h7M271.5 337v7M275 340.5h7M278.5 337v7M272 342.5h7M275.5 339v7M279 341.5h7M282.5 338v7M285 339.5h7M288.5 336v7M287 338.5h7M290.5 335v7M290 337.5h7M293.5 334v7M292 339.5h7M295.5 336v7M298 339.5h7M301.5 336v7M296 341.5h7M299.5 338v7M309 338.5h7M312.5 335v7M313 337.5h7M316.5 334v7M317 337.5h7M320.5 334v7M320 338.5h7M323.5 335v7M332 335.5h7M335.5 332v7M355 335.5h7M358.5 332v7M379 330.5h7M382.5 327v7M373 335.5h7M376.5 332v7M370 337.5h7M373.5 334v7M380 336.5h7M383.5 333v7M385 336.5h7M388.5 333v7M389 336.5h7M392.5 333v7M393 337.5h7M396.5 334v7M400 337.5h7M403.5 334v7M358 337.5h7M361.5 334v7M362 338.5h7M365.5 335v7M381 333.5h7M384.5 330v7M385 335.5h7M388.5 332v7M389 335.5h7M392.5 332v7M393 336.5h7M396.5 333v7M400 336.5h7M403.5 333v7M408 334.5h7M411.5 331v7M410 336.5h7M413.5 333v7M415 336.5h7M418.5 333v7M347 312.5h7M350.5 309v7M344 319.5h7M347.5 316v7M342 322.5h7M345.5 319v7M345 322.5h7M348.5 319v7M347 323.5h7M350.5 320v7M343 324.5h7M346.5 321v7M345 325.5h7M348.5 322v7M341 326.5h7M344.5 323v7M344 326.5h7M347.5 323v7M347 326.5h7M350.5 323v7M341 328.5h7M344.5 325v7M344 328.5h7M347.5 325v7M347 328.5h7M350.5 325v7M343 329.5h7M346.5 326v7M438 247.5h7M441.5 244v7M441 250.5h7M444.5 247v7M452 252.5h7M455.5 249v7M453 251.5h7M456.5 248v7M456 248.5h7M459.5 245v7M460 245.5h7M463.5 242v7M464 243.5h7M467.5 240v7M465 252.5h7M468.5 249v7M471 247.5h7M474.5 244v7M479 241.5h7M482.5 238v7M430 254.5h7M433.5 251v7M483 247.5h7M486.5 244v7M490 240.5h7M493.5 237v7M494 241.5h7M497.5 238v7M493 248.5h7M496.5 245v7M504 246.5h7M507.5 243v7M507 249.5h7M510.5 246v7M510 251.5h7M513.5 248v7M498 253.5h7M501.5 250v7M500 255.5h7M503.5 252v7M502 258.5h7M505.5 255v7M515 252.5h7M518.5 249v7M513 254.5h7M516.5 251v7M524 236.5h7M527.5 233v7M528 250.5h7M531.5 247v7M530 250.5h7M533.5 247v7M534 251.5h7M537.5 248v7M527 253.5h7M530.5 250v7M541 249.5h7M544.5 246v7M537 256.5h7M540.5 253v7M552 249.5h7M555.5 246v7M549 252.5h7M552.5 249v7M548 255.5h7M551.5 252v7M523 255.5h7M526.5 252v7M560 239.5h7M563.5 236v7M556 254.5h7M559.5 251v7M566 251.5h7M569.5 248v7M88 109.5h7M91.5 106v7M88 356.5h7M91.5 353v7M88 358.5h7M91.5 355v7M89 349.5h7M92.5 346v7M89 353.5h7M92.5 350v7M89 357.5h7M92.5 354v7"/>
</g>
<g id="legend">
<text><tspan x="294.9" y="61">pg182</tspan><tspan x="338.8" y="65" class="sub">o</tspan><tspan x="346.2" textLength="85.9" y="61">2nofp.cx10b</tspan><tspan x="432.4" y="65" class="sub" font-size="14.6" style="font-size:14.6px">f</tspan><tspan x="436.3" textLength="27.9" y="61">pw0</tspan><tspan x="464.8" y="65" class="sub">w</tspan><tspan x="474.4" dx="0 .7 .7 -.5 -.9" y="61">allz4</tspan><tspan x="506.9" y="65" class="sub">c</tspan><tspan x="512.7" y="61">8r32</tspan></text>
<path shape-rendering="crispEdges" fill="none" stroke="#9400d3" d="M571 57.5h7M574.5 54v7"/>
</g>
<g id="axes" shape-rendering="crispEdges" fill="none" stroke="#000" stroke-width="1">
<path d="M91 431.5h5M608 431.5h5M91 385.5h5M608 385.5h5M91 338.5h5M608 338.5h5M91 292.5h5M608 292.5h5M91 246.5h5M608 246.5h5M91 199.5h5M608 199.5h5M91 153.5h5M608 153.5h5M91 106.5h5M608 106.5h5M91 60.5h5M608 60.5h5M91.5 427v5M91.5 45v5M149.5 427v5M149.5 45v5M207.5 427v5M207.5 45v5M265.5 427v5M265.5 45v5M323.5 427v5M323.5 45v5M380.5 427v5M380.5 45v5M438.5 427v5M438.5 45v5M496.5 427v5M496.5 45v5M554.5 427v5M554.5 45v5M612.5 427v5M612.5 45v5"/>
<rect x="91.5" y="45.5" width="521" height="386"/>
</g>
<g id="labels">
<text class="num" x="73.1" y="435">0</text>
<text class="num" x="37.1" y="389">10000</text>
<text class="num" x="37.1" y="342">20000</text>
<text class="num" x="37.1" y="296">30000</text>
<text class="num" x="37.1" y="250">40000</text>
<text class="num" x="37.1" y="203">50000</text>
<text class="num" x="37.1" y="157">60000</text>
<text class="num" x="37.1" y="110">70000</text>
<text class="num" x="37.1" y="64">80000</text>
<text class="num" x="87.9" y="450">0</text>
<text class="num" x="137.1" y="450">500</text>
<text class="num" x="190.9" y="450">1000</text>
<text class="num" x="248.8" y="450">1500</text>
<text class="num" x="306.7" y="450">2000</text>
<text class="num" x="364.5" y="450">2500</text>
<text class="num" x="422.4" y="450">3000</text>
<text class="num" x="480.3" y="450">3500</text>
<text class="num" x="538.2" y="450">4000</text>
<text class="num" x="596.1" y="450">4500</text>
<text x="350.1" y="27" text-anchor="middle">maxDeleteUsecs vs Time for l.i2</text>
<text x="350.6" y="472" text-anchor="middle">Time(s)</text>
<text transform="translate(17.1,237.4) rotate(-90)" text-anchor="middle">maxDeleteUsecs</text>
</g>
</svg>
</body>
</html>
